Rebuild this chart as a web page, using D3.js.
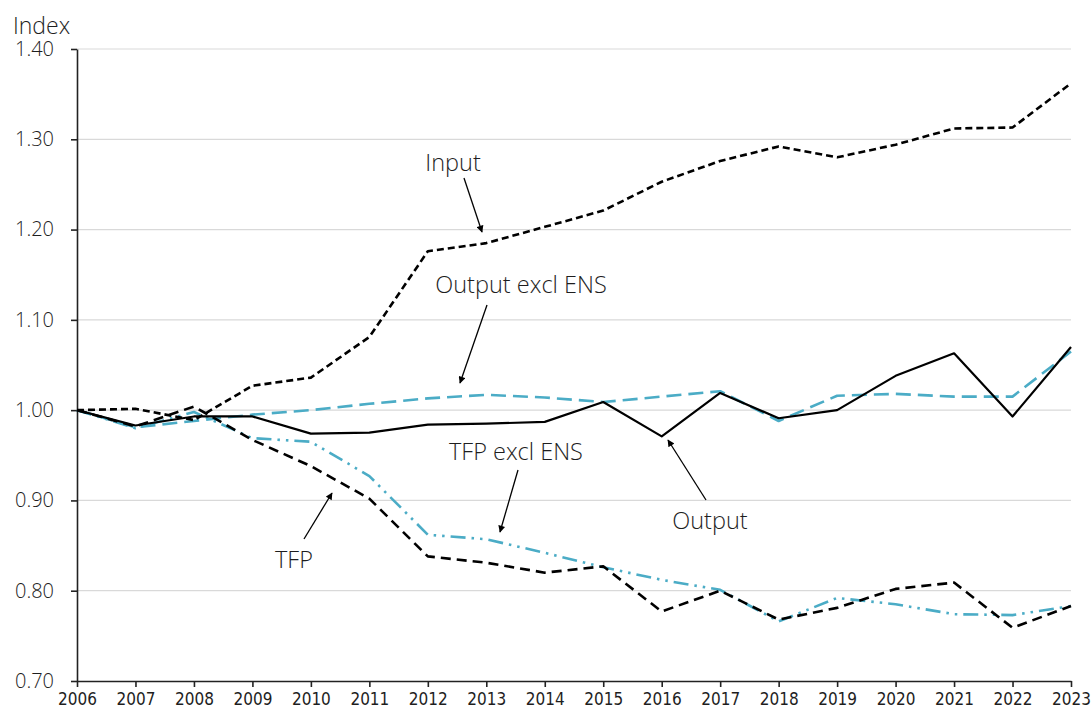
<!DOCTYPE html>
<html>
<head>
<meta charset="utf-8">
<script src="https://cdn.jsdelivr.net/npm/d3@7"></script>
<style>
  body { margin: 0; background: #fff; }
  .tick text { fill: #1e1e1e; }
</style>
</head>
<body>
<script>
// years along the x axis
var years = [2006, 2007, 2008, 2009, 2010, 2011, 2012, 2013, 2014, 2015, 2016, 2017, 2018, 2019, 2020, 2021, 2022, 2023];

// series values (index, 2006 = 1.00)
var output = [1.000, 0.983, 0.993, 0.993, 0.974, 0.975, 0.984, 0.985, 0.987, 1.009, 0.971, 1.019, 0.991, 1.000, 1.038, 1.063, 0.993, 1.070];
var input = [1.000, 1.0015, 0.989, 1.027, 1.036, 1.081, 1.176, 1.185, 1.203, 1.221, 1.253, 1.276, 1.292, 1.280, 1.294, 1.312, 1.313, 1.362];
var tfp = [1.000, 0.982, 1.004, 0.967, 0.938, 0.902, 0.838, 0.831, 0.820, 0.827, 0.777, 0.800, 0.768, 0.781, 0.802, 0.809, 0.759, 0.783];
var outputExcl = [1.000, 0.981, 0.988, 0.995, 1.000, 1.007, 1.013, 1.017, 1.014, 1.009, 1.015, 1.021, 0.988, 1.016, 1.018, 1.015, 1.015, 1.065];
var tfpExcl = [1.000, 0.980, 0.998, 0.969, 0.965, 0.927, 0.862, 0.857, 0.842, 0.826, 0.812, 0.801, 0.766, 0.792, 0.785, 0.774, 0.773, 0.783];

// y tick labels
var yTicks = [0.70, 0.80, 0.90, 1.00, 1.10, 1.20, 1.30, 1.40];

window.onload = function(){
    var w = 1091, h = 717;
    var font = "'Open Sans', 'Noto Sans', sans-serif";

    var svg = d3.select("body")
        .append("svg")
        .attr("width", w)
        .attr("height", h)
        .style("display", "block");

    var x = d3.scaleLinear()
        .domain([2006, 2023])
        .range([77, 1071]);

    var y = d3.scaleLinear()
        .domain([0.70, 1.40])
        .range([681, 49]);

    //gridlines
    svg.append("g")
        .selectAll("line")
        .data(yTicks.slice(1))
        .enter()
        .append("line")
        .attr("x1", x(2006))
        .attr("x2", x(2023))
        .attr("y1", function(d){ return y(d); })
        .attr("y2", function(d){ return y(d); })
        .style("stroke", "#d9d9d9")
        .style("stroke-width", 1.2);

    //y axis
    var yAxis = svg.append("g")
        .attr("transform", "translate(" + x(2006) + ",0)")
        .call(d3.axisLeft(y).tickValues(yTicks).tickFormat(d3.format(".2f")).tickSizeInner(6).tickSizeOuter(0).tickPadding(17));
    yAxis.selectAll("text")
        .style("font-family", font)
        .style("font-weight", 300)
        .style("font-size", "20px");

    //x axis
    var xAxis = svg.append("g")
        .attr("transform", "translate(0," + y(0.70) + ")")
        .call(d3.axisBottom(x).tickValues(years).tickFormat(d3.format("d")).tickSizeInner(6).tickSizeOuter(0).tickPadding(6));
    xAxis.selectAll("text")
        .style("font-family", "'Liberation Sans Narrow', 'DejaVu Sans Condensed', " + font)
        .style("font-size", "17px");

    svg.selectAll(".domain, .tick line")
        .style("stroke", "#222")
        .style("stroke-width", 1.6);

    //axis title
    svg.append("text")
        .attr("x", 13)
        .attr("y", 34)
        .style("font-family", font)
        .style("font-weight", 300)
        .style("font-size", "23px")
        .style("fill", "#1e1e1e")
        .text("Index");

    var line = d3.line()
        .x(function(d, i){ return x(years[i]); })
        .y(function(d){ return y(d); });

    var series = [
        { values: outputExcl, color: "#4bacc6", dash: "15,7", width: 2.6 },
        { values: tfpExcl, color: "#4bacc6", dash: "15,6,2.5,6,2.5,6", width: 2.6 },
        { values: input, color: "#000", dash: "7,4", width: 2.6 },
        { values: tfp, color: "#000", dash: "10,6", width: 2.6 },
        { values: output, color: "#000", dash: null, width: 2.2 }
    ];

    svg.selectAll(".series")
        .data(series)
        .enter()
        .append("path")
        .attr("class", "series")
        .attr("d", function(d){ return line(d.values); })
        .style("fill", "none")
        .style("stroke", function(d){ return d.color; })
        .style("stroke-width", function(d){ return d.width; })
        .style("stroke-dasharray", function(d){ return d.dash; })
        .style("stroke-linejoin", "round");

    //arrow head
    svg.append("defs").append("marker")
        .attr("id", "head")
        .attr("viewBox", "0 0 10 10")
        .attr("refX", 9)
        .attr("refY", 5)
        .attr("markerWidth", 8)
        .attr("markerHeight", 7)
        .attr("markerUnits", "userSpaceOnUse")
        .attr("orient", "auto")
        .append("path")
        .attr("d", "M0,0 L10,5 L0,10 z")
        .style("fill", "#000");

    var notes = [
        { label: "Input", tx: 453, ty: 171, x1: 464, y1: 178, x2: 482, y2: 232 },
        { label: "Output excl ENS", tx: 521, ty: 293, x1: 487, y1: 305, x2: 460, y2: 383 },
        { label: "TFP excl ENS", tx: 516, ty: 460, x1: 518, y1: 470, x2: 500, y2: 532 },
        { label: "Output", tx: 710, ty: 529, x1: 706, y1: 500, x2: 668, y2: 440 },
        { label: "TFP", tx: 294, ty: 568, x1: 304, y1: 539, x2: 332, y2: 493 }
    ];

    svg.selectAll(".note")
        .data(notes)
        .enter()
        .append("text")
        .attr("class", "note")
        .attr("x", function(d){ return d.tx; })
        .attr("y", function(d){ return d.ty; })
        .attr("text-anchor", "middle")
        .style("font-family", font)
        .style("font-weight", 300)
        .style("font-size", "23.5px")
        .style("fill", "#1e1e1e")
        .text(function(d){ return d.label; });

    svg.selectAll(".arrow")
        .data(notes)
        .enter()
        .append("line")
        .attr("class", "arrow")
        .attr("x1", function(d){ return d.x1; })
        .attr("y1", function(d){ return d.y1; })
        .attr("x2", function(d){ return d.x2; })
        .attr("y2", function(d){ return d.y2; })
        .style("stroke", "#000")
        .style("stroke-width", 1.3)
        .attr("marker-end", "url(#head)");
};
</script>
</body>
</html>
